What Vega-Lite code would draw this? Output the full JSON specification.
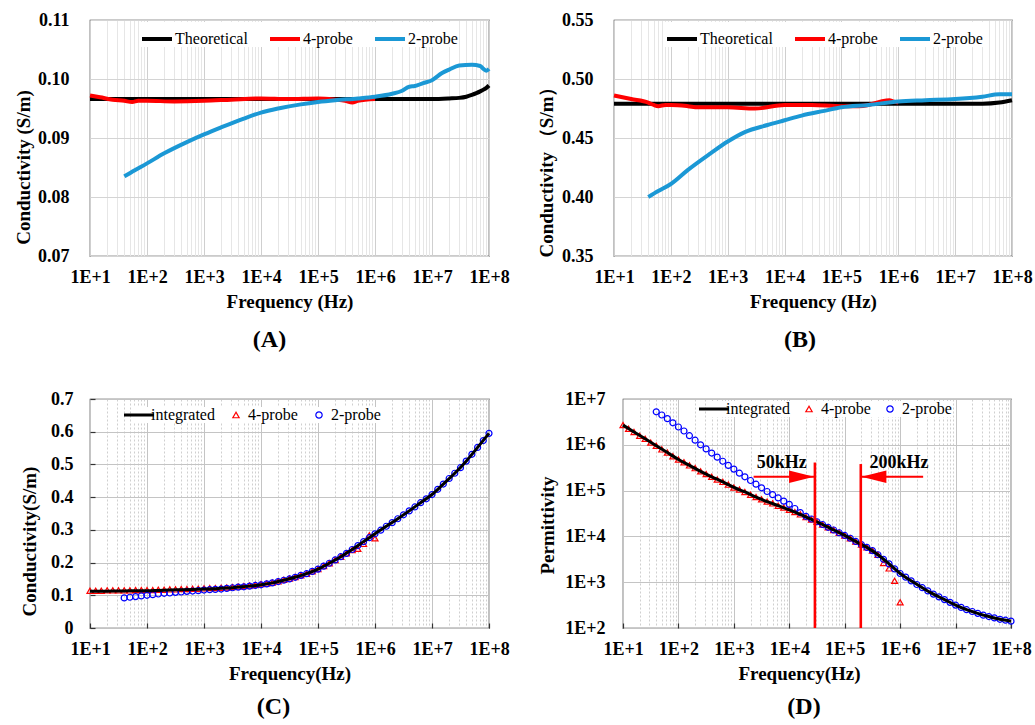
{
  "$schema": "https://vega.github.io/schema/vega-lite/v6.json",
  "padding": {"left": 13, "top": 10, "right": 4, "bottom": 4},
  "background": "white",
  "spacing": 36,
  "resolve": {"scale": {"color": "independent", "shape": "independent"}, "legend": {"color": "independent", "shape": "independent"}},
  "vconcat": [
    {
      "spacing": 26,
      "resolve": {"scale": {"color": "independent", "shape": "independent"}, "legend": {"color": "independent", "shape": "independent"}},
      "hconcat": [
        {
          "width": 399, "height": 236,
          "title": {"text": "(A)", "dx": -20, "offset": 17},
          "data": {"values": [
            {"f":10,"s":"Theoretical","v":0.0966},{"f":100,"s":"Theoretical","v":0.0966},{"f":1000,"s":"Theoretical","v":0.0966},{"f":10000,"s":"Theoretical","v":0.0966},{"f":100000,"s":"Theoretical","v":0.0966},{"f":1000000,"s":"Theoretical","v":0.0966},{"f":10000000,"s":"Theoretical","v":0.0966},{"f":20000000,"s":"Theoretical","v":0.0967},{"f":30000000,"s":"Theoretical","v":0.0968},{"f":40000000,"s":"Theoretical","v":0.097},{"f":50000000,"s":"Theoretical","v":0.0973},{"f":60000000,"s":"Theoretical","v":0.0976},{"f":70000000,"s":"Theoretical","v":0.0979},{"f":80000000,"s":"Theoretical","v":0.0982},{"f":90000000,"s":"Theoretical","v":0.0985},{"f":100000000,"s":"Theoretical","v":0.0989},
            {"f":10,"s":"4-probe","v":0.0972},{"f":15,"s":"4-probe","v":0.0969},{"f":25,"s":"4-probe","v":0.0965},{"f":40,"s":"4-probe","v":0.0963},{"f":55,"s":"4-probe","v":0.0961},{"f":70,"s":"4-probe","v":0.0963},{"f":100,"s":"4-probe","v":0.0963},{"f":300,"s":"4-probe","v":0.0962},{"f":1000,"s":"4-probe","v":0.0963},{"f":3000,"s":"4-probe","v":0.0965},{"f":10000,"s":"4-probe","v":0.0967},{"f":30000,"s":"4-probe","v":0.0966},{"f":100000,"s":"4-probe","v":0.0967},{"f":200000,"s":"4-probe","v":0.0965},{"f":300000,"s":"4-probe","v":0.0963},{"f":400000,"s":"4-probe","v":0.096},{"f":500000,"s":"4-probe","v":0.0963},{"f":1000000,"s":"4-probe","v":0.0966},
            {"f":40,"s":"2-probe","v":0.0835},{"f":60,"s":"2-probe","v":0.0845},{"f":100,"s":"2-probe","v":0.0857},{"f":200,"s":"2-probe","v":0.0874},{"f":500,"s":"2-probe","v":0.0893},{"f":1000,"s":"2-probe","v":0.0906},{"f":2000,"s":"2-probe","v":0.0918},{"f":5000,"s":"2-probe","v":0.0933},{"f":10000,"s":"2-probe","v":0.0943},{"f":20000,"s":"2-probe","v":0.095},{"f":50000,"s":"2-probe","v":0.0957},{"f":100000,"s":"2-probe","v":0.0961},{"f":200000,"s":"2-probe","v":0.0964},{"f":500000,"s":"2-probe","v":0.0967},{"f":1000000,"s":"2-probe","v":0.097},{"f":2000000,"s":"2-probe","v":0.0975},{"f":3000000,"s":"2-probe","v":0.098},{"f":4000000,"s":"2-probe","v":0.0987},{"f":5000000,"s":"2-probe","v":0.0988},{"f":7000000,"s":"2-probe","v":0.0993},{"f":10000000,"s":"2-probe","v":0.0998},{"f":15000000,"s":"2-probe","v":0.101},{"f":20000000,"s":"2-probe","v":0.1016},{"f":30000000,"s":"2-probe","v":0.1023},{"f":50000000,"s":"2-probe","v":0.1024},{"f":70000000,"s":"2-probe","v":0.1022},{"f":80000000,"s":"2-probe","v":0.1017},{"f":90000000,"s":"2-probe","v":0.1014},{"f":100000000,"s":"2-probe","v":0.1017}
          ]},
          "mark": {"type": "line", "strokeWidth": 4, "interpolate": "monotone"},
          "encoding": {
            "x": {"field": "f", "type": "quantitative", "scale": {"type": "log", "domain": [10, 100000000], "nice": false},
              "axis": {"title": "Frequency (Hz)", "values": [10,20,30,40,50,60,70,80,90,100,200,300,400,500,600,700,800,900,1000,2000,3000,4000,5000,6000,7000,8000,9000,10000,20000,30000,40000,50000,60000,70000,80000,90000,100000,200000,300000,400000,500000,600000,700000,800000,900000,1000000,2000000,3000000,4000000,5000000,6000000,7000000,8000000,9000000,10000000,20000000,30000000,40000000,50000000,60000000,70000000,80000000,90000000,100000000],
                "labelExpr": "abs(log(datum.value)/LN10 - round(log(datum.value)/LN10)) < 0.001 ? '1E+' + round(log(datum.value)/LN10) : ''",
                "labelFlush": false, "labelOverlap": false, "labelPadding": 12, "titlePadding": 6,
                "gridColor": {"condition": {"test": "abs(log(datum.value)/LN10 - round(log(datum.value)/LN10)) < 0.001", "value": "#cfcfcf"}, "value": "#e6e6e6"}}},
            "y": {"field": "v", "type": "quantitative", "scale": {"domain": [0.07, 0.11], "nice": false, "zero": false},
              "axis": {"title": "Conductivity (S/m)", "values": [0.07,0.08,0.09,0.1,0.11], "format": ".2f", "labelPadding": 21, "titlePadding": 4, "titleY": 147, "gridColor": "#d4d4d4"}},
            "color": {"field": "s", "type": "nominal", "sort": null, "scale": {"domain": ["Theoretical","4-probe","2-probe"], "range": ["#000000","#ff0000","#1b98d5"]},
              "legend": {"orient": "none", "legendX": 50, "legendY": 2, "direction": "horizontal", "title": null, "fillColor": "white", "padding": 0, "symbolType": "stroke", "symbolSize": 900, "symbolStrokeWidth": 4, "labelFontSize": 16, "labelFont": "Liberation Serif", "labelColor": "#000", "labelOffset": 1, "columnPadding": 14}}
          }
        },
        {
          "width": 398, "height": 236,
          "title": {"text": "(B)", "dx": -13, "offset": 17},
          "data": {"values": [
            {"f":10,"s":"Theoretical","v":0.479},{"f":10000000,"s":"Theoretical","v":0.479},{"f":30000000,"s":"Theoretical","v":0.479},{"f":60000000,"s":"Theoretical","v":0.48},{"f":100000000,"s":"Theoretical","v":0.482},
            {"f":10,"s":"4-probe","v":0.486},{"f":20,"s":"4-probe","v":0.483},{"f":40,"s":"4-probe","v":0.48},{"f":50,"s":"4-probe","v":0.478},{"f":60,"s":"4-probe","v":0.477},{"f":80,"s":"4-probe","v":0.478},{"f":100,"s":"4-probe","v":0.478},{"f":200,"s":"4-probe","v":0.477},{"f":300,"s":"4-probe","v":0.476},{"f":1000,"s":"4-probe","v":0.476},{"f":3000,"s":"4-probe","v":0.475},{"f":10000,"s":"4-probe","v":0.478},{"f":30000,"s":"4-probe","v":0.478},{"f":100000,"s":"4-probe","v":0.477},{"f":200000,"s":"4-probe","v":0.477},{"f":300000,"s":"4-probe","v":0.478},{"f":500000,"s":"4-probe","v":0.481},{"f":700000,"s":"4-probe","v":0.482},{"f":800000,"s":"4-probe","v":0.481},{"f":1000000,"s":"4-probe","v":0.48},
            {"f":40,"s":"2-probe","v":0.4},{"f":60,"s":"2-probe","v":0.405},{"f":100,"s":"2-probe","v":0.411},{"f":200,"s":"2-probe","v":0.423},{"f":500,"s":"2-probe","v":0.437},{"f":1000,"s":"2-probe","v":0.447},{"f":2000,"s":"2-probe","v":0.455},{"f":5000,"s":"2-probe","v":0.461},{"f":10000,"s":"2-probe","v":0.465},{"f":20000,"s":"2-probe","v":0.469},{"f":50000,"s":"2-probe","v":0.473},{"f":100000,"s":"2-probe","v":0.476},{"f":300000,"s":"2-probe","v":0.478},{"f":1000000,"s":"2-probe","v":0.481},{"f":3000000,"s":"2-probe","v":0.482},{"f":10000000,"s":"2-probe","v":0.483},{"f":30000000,"s":"2-probe","v":0.485},{"f":60000000,"s":"2-probe","v":0.487},{"f":100000000,"s":"2-probe","v":0.487}
          ]},
          "mark": {"type": "line", "strokeWidth": 4, "interpolate": "monotone"},
          "encoding": {
            "x": {"field": "f", "type": "quantitative", "scale": {"type": "log", "domain": [10, 100000000], "nice": false},
              "axis": {"title": "Frequency (Hz)", "values": [10,20,30,40,50,60,70,80,90,100,200,300,400,500,600,700,800,900,1000,2000,3000,4000,5000,6000,7000,8000,9000,10000,20000,30000,40000,50000,60000,70000,80000,90000,100000,200000,300000,400000,500000,600000,700000,800000,900000,1000000,2000000,3000000,4000000,5000000,6000000,7000000,8000000,9000000,10000000,20000000,30000000,40000000,50000000,60000000,70000000,80000000,90000000,100000000],
                "labelExpr": "abs(log(datum.value)/LN10 - round(log(datum.value)/LN10)) < 0.001 ? '1E+' + round(log(datum.value)/LN10) : ''",
                "labelFlush": false, "labelOverlap": false, "labelPadding": 12, "titlePadding": 6,
                "gridColor": {"condition": {"test": "abs(log(datum.value)/LN10 - round(log(datum.value)/LN10)) < 0.001", "value": "#cfcfcf"}, "value": "#e6e6e6"}}},
            "y": {"field": "v", "type": "quantitative", "scale": {"domain": [0.35, 0.55], "nice": false, "zero": false},
              "axis": {"title": "Conductivity （S/m）", "values": [0.35,0.4,0.45,0.5,0.55], "format": ".2f", "labelPadding": 21, "titlePadding": 5, "titleY": 147, "gridColor": "#d4d4d4"}},
            "color": {"field": "s", "type": "nominal", "sort": null, "scale": {"domain": ["Theoretical","4-probe","2-probe"], "range": ["#000000","#ff0000","#1b98d5"]},
              "legend": {"orient": "none", "legendX": 51, "legendY": 2, "direction": "horizontal", "title": null, "fillColor": "white", "padding": 0, "symbolType": "stroke", "symbolSize": 900, "symbolStrokeWidth": 4, "labelFontSize": 16, "labelFont": "Liberation Serif", "labelColor": "#000", "labelOffset": 1, "columnPadding": 14}}
          }
        }
      ]
    },
    {
      "spacing": 28,
      "resolve": {"scale": {"color": "independent", "shape": "independent"}, "legend": {"color": "independent", "shape": "independent"}},
      "hconcat": [
        {
          "width": 399, "height": 229,
          "title": {"text": "(C)", "dx": -16, "offset": 12},
          "data": {"values": [
            {"f":10,"s":"integrated","v":0.112},{"f":15.8,"s":"integrated","v":0.112},{"f":25.1,"s":"integrated","v":0.113},{"f":39.8,"s":"integrated","v":0.113},{"f":63.1,"s":"integrated","v":0.114},{"f":100,"s":"integrated","v":0.114},{"f":158,"s":"integrated","v":0.115},{"f":251,"s":"integrated","v":0.116},{"f":398,"s":"integrated","v":0.117},{"f":631,"s":"integrated","v":0.118},{"f":1000,"s":"integrated","v":0.119},{"f":1580,"s":"integrated","v":0.12},{"f":2510,"s":"integrated","v":0.122},{"f":3980,"s":"integrated","v":0.125},{"f":6310,"s":"integrated","v":0.128},{"f":10000,"s":"integrated","v":0.132},{"f":15800,"s":"integrated","v":0.138},{"f":25100,"s":"integrated","v":0.146},{"f":39800,"s":"integrated","v":0.155},{"f":63100,"s":"integrated","v":0.166},{"f":100000,"s":"integrated","v":0.18},{"f":158000,"s":"integrated","v":0.198},{"f":251000,"s":"integrated","v":0.218},{"f":398000,"s":"integrated","v":0.24},{"f":631000,"s":"integrated","v":0.264},{"f":1000000,"s":"integrated","v":0.288},{"f":1580000,"s":"integrated","v":0.311},{"f":2510000,"s":"integrated","v":0.334},{"f":3980000,"s":"integrated","v":0.358},{"f":6310000,"s":"integrated","v":0.383},{"f":10000000,"s":"integrated","v":0.408},{"f":15800000,"s":"integrated","v":0.44},{"f":25100000,"s":"integrated","v":0.473},{"f":39800000,"s":"integrated","v":0.51},{"f":63100000,"s":"integrated","v":0.552},{"f":100000000,"s":"integrated","v":0.595},
            {"f":10,"s":"4-probe","v":0.114},{"f":12.6,"s":"4-probe","v":0.114},{"f":15.8,"s":"4-probe","v":0.114},{"f":20,"s":"4-probe","v":0.115},{"f":25.1,"s":"4-probe","v":0.115},{"f":31.6,"s":"4-probe","v":0.115},{"f":39.8,"s":"4-probe","v":0.115},{"f":50.1,"s":"4-probe","v":0.115},{"f":63.1,"s":"4-probe","v":0.116},{"f":79.4,"s":"4-probe","v":0.116},
            {"f":100,"s":"4-probe","v":0.116},{"f":126,"s":"4-probe","v":0.116},{"f":158,"s":"4-probe","v":0.117},{"f":200,"s":"4-probe","v":0.117},{"f":251,"s":"4-probe","v":0.118},{"f":316,"s":"4-probe","v":0.118},{"f":398,"s":"4-probe","v":0.119},{"f":501,"s":"4-probe","v":0.119},{"f":631,"s":"4-probe","v":0.12},{"f":794,"s":"4-probe","v":0.12},
            {"f":1000,"s":"4-probe","v":0.121},{"f":1260,"s":"4-probe","v":0.122},{"f":1580,"s":"4-probe","v":0.122},{"f":2000,"s":"4-probe","v":0.123},{"f":2510,"s":"4-probe","v":0.124},{"f":3160,"s":"4-probe","v":0.125},{"f":3980,"s":"4-probe","v":0.127},{"f":5010,"s":"4-probe","v":0.128},{"f":6310,"s":"4-probe","v":0.13},{"f":7940,"s":"4-probe","v":0.132},
            {"f":10000,"s":"4-probe","v":0.134},{"f":12600,"s":"4-probe","v":0.136},{"f":15800,"s":"4-probe","v":0.139},{"f":20000,"s":"4-probe","v":0.143},{"f":25100,"s":"4-probe","v":0.147},{"f":31600,"s":"4-probe","v":0.151},{"f":39800,"s":"4-probe","v":0.156},{"f":50100,"s":"4-probe","v":0.161},{"f":63100,"s":"4-probe","v":0.166},{"f":79400,"s":"4-probe","v":0.173},
            {"f":100000,"s":"4-probe","v":0.18},{"f":126000,"s":"4-probe","v":0.189},{"f":158000,"s":"4-probe","v":0.198},{"f":200000,"s":"4-probe","v":0.208},{"f":251000,"s":"4-probe","v":0.218},{"f":316000,"s":"4-probe","v":0.228},{"f":398000,"s":"4-probe","v":0.238},{"f":501000,"s":"4-probe","v":0.242},{"f":631000,"s":"4-probe","v":0.257},{"f":794000,"s":"4-probe","v":0.283},{"f":1000000,"s":"4-probe","v":0.274},
            {"f":39.8,"s":"2-probe","v":0.092},{"f":50.1,"s":"2-probe","v":0.094},{"f":63.1,"s":"2-probe","v":0.096},{"f":79.4,"s":"2-probe","v":0.098},
            {"f":100,"s":"2-probe","v":0.1},{"f":126,"s":"2-probe","v":0.102},{"f":158,"s":"2-probe","v":0.104},{"f":200,"s":"2-probe","v":0.106},{"f":251,"s":"2-probe","v":0.107},{"f":316,"s":"2-probe","v":0.109},{"f":398,"s":"2-probe","v":0.11},{"f":501,"s":"2-probe","v":0.112},{"f":631,"s":"2-probe","v":0.113},{"f":794,"s":"2-probe","v":0.114},
            {"f":1000,"s":"2-probe","v":0.116},{"f":1260,"s":"2-probe","v":0.117},{"f":1580,"s":"2-probe","v":0.118},{"f":2000,"s":"2-probe","v":0.119},{"f":2510,"s":"2-probe","v":0.121},{"f":3160,"s":"2-probe","v":0.123},{"f":3980,"s":"2-probe","v":0.125},{"f":5010,"s":"2-probe","v":0.126},{"f":6310,"s":"2-probe","v":0.128},{"f":7940,"s":"2-probe","v":0.13},
            {"f":10000,"s":"2-probe","v":0.132},{"f":12600,"s":"2-probe","v":0.135},{"f":15800,"s":"2-probe","v":0.138},{"f":20000,"s":"2-probe","v":0.142},{"f":25100,"s":"2-probe","v":0.146},{"f":31600,"s":"2-probe","v":0.15},{"f":39800,"s":"2-probe","v":0.155},{"f":50100,"s":"2-probe","v":0.161},{"f":63100,"s":"2-probe","v":0.166},{"f":79400,"s":"2-probe","v":0.173},
            {"f":100000,"s":"2-probe","v":0.18},{"f":126000,"s":"2-probe","v":0.189},{"f":158000,"s":"2-probe","v":0.198},{"f":200000,"s":"2-probe","v":0.208},{"f":251000,"s":"2-probe","v":0.218},{"f":316000,"s":"2-probe","v":0.228},{"f":398000,"s":"2-probe","v":0.24},{"f":501000,"s":"2-probe","v":0.252},{"f":631000,"s":"2-probe","v":0.264},{"f":794000,"s":"2-probe","v":0.276},
            {"f":1000000,"s":"2-probe","v":0.288},{"f":1260000,"s":"2-probe","v":0.299},{"f":1580000,"s":"2-probe","v":0.311},{"f":2000000,"s":"2-probe","v":0.322},{"f":2510000,"s":"2-probe","v":0.334},{"f":3160000,"s":"2-probe","v":0.346},{"f":3980000,"s":"2-probe","v":0.358},{"f":5010000,"s":"2-probe","v":0.37},{"f":6310000,"s":"2-probe","v":0.383},{"f":7940000,"s":"2-probe","v":0.395},
            {"f":10000000,"s":"2-probe","v":0.408},{"f":12600000,"s":"2-probe","v":0.424},{"f":15800000,"s":"2-probe","v":0.44},{"f":20000000,"s":"2-probe","v":0.457},{"f":25100000,"s":"2-probe","v":0.473},{"f":31600000,"s":"2-probe","v":0.49},{"f":39800000,"s":"2-probe","v":0.51},{"f":50100000,"s":"2-probe","v":0.531},{"f":63100000,"s":"2-probe","v":0.552},{"f":79400000,"s":"2-probe","v":0.573},{"f":100000000,"s":"2-probe","v":0.595}
          ]},
          "encoding": {
            "x": {"field": "f", "type": "quantitative", "scale": {"type": "log", "domain": [10, 100000000], "nice": false},
              "axis": {"title": "Frequency(Hz)", "values": [10,20,30,40,50,60,70,80,90,100,200,300,400,500,600,700,800,900,1000,2000,3000,4000,5000,6000,7000,8000,9000,10000,20000,30000,40000,50000,60000,70000,80000,90000,100000,200000,300000,400000,500000,600000,700000,800000,900000,1000000,2000000,3000000,4000000,5000000,6000000,7000000,8000000,9000000,10000000,20000000,30000000,40000000,50000000,60000000,70000000,80000000,90000000,100000000],
                "labelExpr": "abs(log(datum.value)/LN10 - round(log(datum.value)/LN10)) < 0.001 ? '1E+' + round(log(datum.value)/LN10) : ''",
                "labelFlush": false, "labelOverlap": false, "labelPadding": 17, "titlePadding": 6,
                "ticks": true, "tickSize": -5, "tickColor": "#333333", "tickWidth": 1.2,
                "tickOpacity": {"condition": {"test": "abs(log(datum.value)/LN10 - round(log(datum.value)/LN10)) < 0.001", "value": 1}, "value": 0},
                "gridColor": {"condition": {"test": "abs(log(datum.value)/LN10 - round(log(datum.value)/LN10)) < 0.001", "value": "#c4c4c4"}, "value": "#cfcfcf"},
                "gridDash": {"condition": {"test": "abs(log(datum.value)/LN10 - round(log(datum.value)/LN10)) < 0.001", "value": []}, "value": [2, 2]}}},
            "y": {"field": "v", "type": "quantitative", "scale": {"domain": [0, 0.7], "nice": false},
              "axis": {"title": "Conductivity(S/m)", "values": [0,0.1,0.2,0.3,0.4,0.5,0.6,0.7], "format": ".1~f", "labelPadding": 22, "titlePadding": 11, "titleY": 142, "gridColor": "#c4c4c4",
                "ticks": true, "tickSize": -5, "tickColor": "#333333", "tickWidth": 1.2}},
            "color": {"field": "s", "type": "nominal", "sort": null, "scale": {"domain": ["integrated","4-probe","2-probe"], "range": ["#000000","#ff0000","#0000ff"]},
              "legend": {"orient": "none", "legendX": 41, "legendY": 8, "direction": "horizontal", "title": null, "fillColor": "white", "padding": 0, "symbolSize": 900, "labelFontSize": 16, "labelFont": "Liberation Serif", "labelColor": "#000", "labelOffset": 4, "columnPadding": 13,
                "encode": {"symbols": {"update": {"strokeWidth": {"signal": "datum.value === 'integrated' ? 3 : 1.2"}, "size": {"signal": "datum.value === 'integrated' ? 900 : 40"}}}}}}
          },
          "layer": [
            {"transform": [{"filter": "datum.s !== 'integrated'"}],
             "mark": {"type": "point", "filled": false, "size": 36, "strokeWidth": 1.2, "opacity": 1},
             "encoding": {"shape": {"field": "s", "type": "nominal", "sort": null, "scale": {"domain": ["integrated","4-probe","2-probe"], "range": ["stroke","triangle-up","circle"]},
               "legend": {"orient": "none", "legendX": 41, "legendY": 8, "direction": "horizontal", "title": null, "fillColor": "white", "padding": 0, "symbolSize": 900, "labelFontSize": 16, "labelFont": "Liberation Serif", "labelColor": "#000", "labelOffset": 4, "columnPadding": 13,
                "encode": {"symbols": {"update": {"strokeWidth": {"signal": "datum.value === 'integrated' ? 3 : 1.2"}, "size": {"signal": "datum.value === 'integrated' ? 900 : 40"}}}}}}}},
            {"transform": [{"filter": "datum.s === 'integrated'"}],
             "mark": {"type": "line", "strokeWidth": 3, "interpolate": "monotone"},
             "encoding": {}}
          ]
        },
        {
          "width": 388, "height": 229,
          "title": {"text": "(D)", "dx": -13, "offset": 12},
          "encoding": {
            "x": {"field": "f", "type": "quantitative", "scale": {"type": "log", "domain": [10, 100000000], "nice": false},
              "axis": {"title": "Frequency(Hz)", "titleX": 176, "values": [10,20,30,40,50,60,70,80,90,100,200,300,400,500,600,700,800,900,1000,2000,3000,4000,5000,6000,7000,8000,9000,10000,20000,30000,40000,50000,60000,70000,80000,90000,100000,200000,300000,400000,500000,600000,700000,800000,900000,1000000,2000000,3000000,4000000,5000000,6000000,7000000,8000000,9000000,10000000,20000000,30000000,40000000,50000000,60000000,70000000,80000000,90000000,100000000],
                "labelExpr": "abs(log(datum.value)/LN10 - round(log(datum.value)/LN10)) < 0.001 ? '1E+' + round(log(datum.value)/LN10) : ''",
                "labelFlush": false, "labelOverlap": false, "labelPadding": 17, "titlePadding": 6,
                "ticks": true, "tickSize": -5, "tickColor": "#333333", "tickWidth": 1.2,
                "tickOpacity": {"condition": {"test": "abs(log(datum.value)/LN10 - round(log(datum.value)/LN10)) < 0.001", "value": 1}, "value": 0},
                "gridColor": {"condition": {"test": "abs(log(datum.value)/LN10 - round(log(datum.value)/LN10)) < 0.001", "value": "#c4c4c4"}, "value": "#cfcfcf"},
                "gridDash": {"condition": {"test": "abs(log(datum.value)/LN10 - round(log(datum.value)/LN10)) < 0.001", "value": []}, "value": [2, 2]}}},
            "y": {"field": "v", "type": "quantitative", "scale": {"type": "log", "domain": [100, 10000000], "nice": false},
              "axis": {"title": "Permittivity", "values": [100,1000,10000,100000,1000000,10000000], "labelExpr": "'1E+' + round(log(datum.value)/LN10)", "labelPadding": 18, "titlePadding": 7, "titleY": 126, "gridColor": "#c4c4c4"}}
          },
          "layer": [
            {
              "data": {"values": [
                {"f":10,"s":"4-probe","v":2690000},{"f":12.6,"s":"4-probe","v":2240000},{"f":15.8,"s":"4-probe","v":1910000},{"f":20,"s":"4-probe","v":1580000},{"f":25.1,"s":"4-probe","v":1350000},{"f":31.6,"s":"4-probe","v":1120000},{"f":39.8,"s":"4-probe","v":955000},{"f":50.1,"s":"4-probe","v":794000},{"f":63.1,"s":"4-probe","v":676000},{"f":79.4,"s":"4-probe","v":562000},
                {"f":100,"s":"4-probe","v":479000},{"f":126,"s":"4-probe","v":417000},{"f":158,"s":"4-probe","v":355000},{"f":200,"s":"4-probe","v":309000},{"f":251,"s":"4-probe","v":263000},{"f":316,"s":"4-probe","v":229000},{"f":398,"s":"4-probe","v":200000},{"f":501,"s":"4-probe","v":174000},{"f":631,"s":"4-probe","v":155000},{"f":794,"s":"4-probe","v":135000},
                {"f":1000,"s":"4-probe","v":117000},{"f":1260,"s":"4-probe","v":105000},{"f":1580,"s":"4-probe","v":93300},{"f":2000,"s":"4-probe","v":81300},{"f":2510,"s":"4-probe","v":72400},{"f":3160,"s":"4-probe","v":64600},{"f":3980,"s":"4-probe","v":57500},{"f":5010,"s":"4-probe","v":52500},{"f":6310,"s":"4-probe","v":46800},{"f":7940,"s":"4-probe","v":42700},
                {"f":10000,"s":"4-probe","v":38000},{"f":12600,"s":"4-probe","v":33900},{"f":15800,"s":"4-probe","v":30200},{"f":20000,"s":"4-probe","v":26300},{"f":25100,"s":"4-probe","v":23400},{"f":31600,"s":"4-probe","v":20900},{"f":39800,"s":"4-probe","v":18200},{"f":50100,"s":"4-probe","v":15800},{"f":63100,"s":"4-probe","v":13800},{"f":79400,"s":"4-probe","v":12000},
                {"f":100000,"s":"4-probe","v":10500},{"f":126000,"s":"4-probe","v":9120},{"f":158000,"s":"4-probe","v":7760},{"f":200000,"s":"4-probe","v":6610},{"f":251000,"s":"4-probe","v":5750},{"f":316000,"s":"4-probe","v":4900},{"f":398000,"s":"4-probe","v":3980},{"f":501000,"s":"4-probe","v":2630},{"f":631000,"s":"4-probe","v":2000},{"f":794000,"s":"4-probe","v":1070},{"f":1000000,"s":"4-probe","v":363},
                {"f":39.8,"s":"2-probe","v":5250000},{"f":50.1,"s":"2-probe","v":4470000},{"f":63.1,"s":"2-probe","v":3720000},{"f":79.4,"s":"2-probe","v":3020000},
                {"f":100,"s":"2-probe","v":2450000},{"f":126,"s":"2-probe","v":2000000},{"f":158,"s":"2-probe","v":1580000},{"f":200,"s":"2-probe","v":1260000},{"f":251,"s":"2-probe","v":1000000},{"f":316,"s":"2-probe","v":813000},{"f":398,"s":"2-probe","v":661000},{"f":501,"s":"2-probe","v":537000},{"f":631,"s":"2-probe","v":437000},{"f":794,"s":"2-probe","v":355000},
                {"f":1000,"s":"2-probe","v":295000},{"f":1260,"s":"2-probe","v":240000},{"f":1580,"s":"2-probe","v":200000},{"f":2000,"s":"2-probe","v":166000},{"f":2510,"s":"2-probe","v":138000},{"f":3160,"s":"2-probe","v":115000},{"f":3980,"s":"2-probe","v":95500},{"f":5010,"s":"2-probe","v":81300},{"f":6310,"s":"2-probe","v":69200},{"f":7940,"s":"2-probe","v":58900},
                {"f":10000,"s":"2-probe","v":50100},{"f":12600,"s":"2-probe","v":40700},{"f":15800,"s":"2-probe","v":33100},{"f":20000,"s":"2-probe","v":27500},{"f":25100,"s":"2-probe","v":24000},{"f":31600,"s":"2-probe","v":20900},{"f":39800,"s":"2-probe","v":18200},{"f":50100,"s":"2-probe","v":15800},{"f":63100,"s":"2-probe","v":13800},{"f":79400,"s":"2-probe","v":12000},
                {"f":100000,"s":"2-probe","v":10500},{"f":126000,"s":"2-probe","v":9120},{"f":158000,"s":"2-probe","v":7760},{"f":200000,"s":"2-probe","v":6610},{"f":251000,"s":"2-probe","v":5750},{"f":316000,"s":"2-probe","v":4900},{"f":398000,"s":"2-probe","v":3980},{"f":501000,"s":"2-probe","v":3160},{"f":631000,"s":"2-probe","v":2510},{"f":794000,"s":"2-probe","v":1950},
                {"f":1000000,"s":"2-probe","v":1550},{"f":1260000,"s":"2-probe","v":1290},{"f":1580000,"s":"2-probe","v":1070},{"f":2000000,"s":"2-probe","v":891},{"f":2510000,"s":"2-probe","v":759},{"f":3160000,"s":"2-probe","v":646},{"f":3980000,"s":"2-probe","v":550},{"f":5010000,"s":"2-probe","v":479},{"f":6310000,"s":"2-probe","v":417},{"f":7940000,"s":"2-probe","v":363},
                {"f":10000000,"s":"2-probe","v":316},{"f":12600000,"s":"2-probe","v":282},{"f":15800000,"s":"2-probe","v":251},{"f":20000000,"s":"2-probe","v":229},{"f":25100000,"s":"2-probe","v":209},{"f":31600000,"s":"2-probe","v":191},{"f":39800000,"s":"2-probe","v":178},{"f":50100000,"s":"2-probe","v":166},{"f":63100000,"s":"2-probe","v":155},{"f":79400000,"s":"2-probe","v":148},{"f":100000000,"s":"2-probe","v":141}
              ]},
              "mark": {"type": "point", "filled": false, "size": 36, "strokeWidth": 1.2, "opacity": 1},
              "encoding": {
                "color": {"field": "s", "type": "nominal", "sort": null, "scale": {"domain": ["integrated","4-probe","2-probe"], "range": ["#000000","#ff0000","#0000ff"]},
                  "legend": {"orient": "none", "legendX": 83, "legendY": 2, "direction": "horizontal", "title": null, "fillColor": "white", "padding": 0, "symbolSize": 900, "labelFontSize": 16, "labelFont": "Liberation Serif", "labelColor": "#000", "labelOffset": 4, "columnPadding": 11,
                    "encode": {"symbols": {"update": {"strokeWidth": {"signal": "datum.value === 'integrated' ? 3 : 1.2"}, "size": {"signal": "datum.value === 'integrated' ? 900 : 40"}}}}}},
                "shape": {"field": "s", "type": "nominal", "sort": null, "scale": {"domain": ["integrated","4-probe","2-probe"], "range": ["stroke","triangle-up","circle"]},
                  "legend": {"orient": "none", "legendX": 83, "legendY": 2, "direction": "horizontal", "title": null, "fillColor": "white", "padding": 0, "symbolSize": 900, "labelFontSize": 16, "labelFont": "Liberation Serif", "labelColor": "#000", "labelOffset": 4, "columnPadding": 11,
                    "encode": {"symbols": {"update": {"strokeWidth": {"signal": "datum.value === 'integrated' ? 3 : 1.2"}, "size": {"signal": "datum.value === 'integrated' ? 900 : 40"}}}}}}
              }
            },
            {
              "data": {"values": [
                {"f":10,"s":"integrated","v":2690000},{"f":15.8,"s":"integrated","v":1910000},{"f":25.1,"s":"integrated","v":1350000},{"f":39.8,"s":"integrated","v":955000},{"f":63.1,"s":"integrated","v":676000},{"f":100,"s":"integrated","v":479000},{"f":158,"s":"integrated","v":355000},{"f":251,"s":"integrated","v":263000},{"f":398,"s":"integrated","v":200000},{"f":631,"s":"integrated","v":155000},{"f":1000,"s":"integrated","v":117000},{"f":1580,"s":"integrated","v":93300},{"f":2510,"s":"integrated","v":72400},{"f":3980,"s":"integrated","v":57500},{"f":6310,"s":"integrated","v":46800},{"f":10000,"s":"integrated","v":38000},{"f":15800,"s":"integrated","v":30200},{"f":25100,"s":"integrated","v":23400},{"f":39800,"s":"integrated","v":18200},{"f":63100,"s":"integrated","v":13800},{"f":100000,"s":"integrated","v":10500},{"f":158000,"s":"integrated","v":7760},{"f":251000,"s":"integrated","v":5750},{"f":398000,"s":"integrated","v":3980},{"f":631000,"s":"integrated","v":2510},{"f":1000000,"s":"integrated","v":1550},{"f":1580000,"s":"integrated","v":1070},{"f":2510000,"s":"integrated","v":759},{"f":3980000,"s":"integrated","v":550},{"f":6310000,"s":"integrated","v":417},{"f":10000000,"s":"integrated","v":316},{"f":15800000,"s":"integrated","v":251},{"f":25100000,"s":"integrated","v":209},{"f":39800000,"s":"integrated","v":178},{"f":63100000,"s":"integrated","v":155},{"f":100000000,"s":"integrated","v":141}
              ]},
              "mark": {"type": "line", "strokeWidth": 3, "interpolate": "monotone"},
              "encoding": {
                "color": {"field": "s", "type": "nominal", "sort": null, "scale": {"domain": ["integrated","4-probe","2-probe"], "range": ["#000000","#ff0000","#0000ff"]},
                  "legend": {"orient": "none", "legendX": 83, "legendY": 2, "direction": "horizontal", "title": null, "fillColor": "white", "padding": 0, "symbolSize": 900, "labelFontSize": 16, "labelFont": "Liberation Serif", "labelColor": "#000", "labelOffset": 4, "columnPadding": 11,
                    "encode": {"symbols": {"update": {"strokeWidth": {"signal": "datum.value === 'integrated' ? 3 : 1.2"}, "size": {"signal": "datum.value === 'integrated' ? 900 : 40"}}}}}}
              }
            },
            {
              "data": {"values": [{"f":29000,"v":100,"v2":410000},{"f":195000,"v":100,"v2":380000}]},
              "mark": {"type": "rule", "color": "#ff0000", "strokeWidth": 2.6},
              "encoding": {"y2": {"field": "v2"}}
            },
            {
              "data": {"values": [{"f":2270,"f2":29000,"v":200000},{"f":2600000,"f2":195000,"v":200000}]},
              "mark": {"type": "rule", "color": "#ff0000", "strokeWidth": 2},
              "encoding": {"x2": {"field": "f2"}}
            },
            {
              "data": {"values": [{"f":28000,"v":200000}]},
              "mark": {"type": "point", "shape": "M0,0L-2,-0.5L-2,0.5Z", "size": 625, "filled": true, "color": "#ff0000", "opacity": 1, "strokeWidth": 0}
            },
            {
              "data": {"values": [{"f":200000,"v":200000}]},
              "mark": {"type": "point", "shape": "M0,0L2,-0.5L2,0.5Z", "size": 625, "filled": true, "color": "#ff0000", "opacity": 1, "strokeWidth": 0}
            },
            {
              "data": {"values": [{"f":7330,"v":313000,"t":"50kHz"},{"f":955000,"v":313000,"t":"200kHz"}]},
              "mark": {"type": "text", "font": "Liberation Serif", "fontSize": 18, "fontWeight": "bold", "color": "#000", "align": "center", "baseline": "alphabetic"},
              "encoding": {"text": {"field": "t"}}
            }
          ]
        }
      ]
    }
  ],
  "config": {
    "font": "Liberation Serif",
    "view": {"stroke": "#333333", "strokeWidth": 1.2},
    "axis": {"labelFont": "Liberation Serif", "labelFontSize": 18, "labelFontWeight": "bold", "labelColor": "#000", "titleFont": "Liberation Serif", "titleFontSize": 19, "titleFontWeight": "bold", "titleColor": "#000", "domain": false, "ticks": false, "gridWidth": 1},
    "legend": {"labelFontWeight": "normal"},
    "title": {"font": "Liberation Serif", "fontSize": 24, "fontWeight": "bold", "orient": "bottom", "anchor": "middle", "color": "#000"}
  }
}
